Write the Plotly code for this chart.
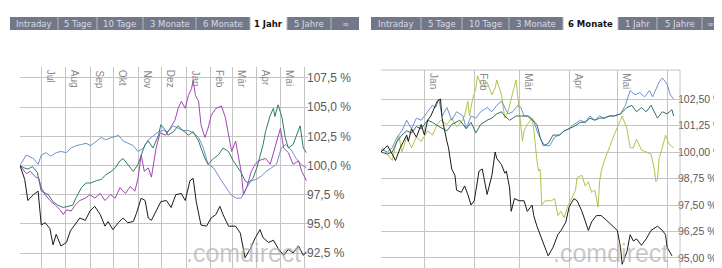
import plotly.graph_objects as go
import pandas as pd

# ------------------------------------------------------------------ data
# Left panel ("1 Jahr"): day offsets from L_START and values in %
L_START = "2006-06-04"
L_END_DAY = 366

l_black_d = [0, 4, 6, 10, 17, 23, 27, 32, 38, 42, 46, 52, 59, 64, 70, 76, 83, 89, 95, 102, 108, 112, 118, 125, 131, 137,
             144, 148, 154, 159, 163, 167, 173, 179, 186, 192, 198, 205, 210, 216, 220, 224, 230, 237, 243, 249, 254,
             258, 265, 274, 280, 286, 293, 299, 305, 309, 316, 322, 328, 335, 341, 347, 354, 360, 364]
l_black_v = [100.0, 99.2, 98.8, 97.0, 97.5, 97.8, 94.9, 95.1, 94.6, 93.2, 94.1, 93.1, 93.4, 94.4, 94.9, 95.5, 95.3,
             96.1, 96.5, 95.8, 94.8, 95.2, 94.5, 95.1, 95.5, 95.1, 95.2, 95.9, 97.2, 97.0, 95.5, 95.3, 96.1, 96.9, 97.0,
             96.4, 97.5, 97.6, 97.0, 98.7, 98.9, 96.9, 94.9, 94.8, 95.5, 95.8, 96.5, 95.8, 94.8, 94.8, 94.2, 92.1,
             92.9, 93.8, 94.5, 93.8, 93.4, 93.6, 92.9, 92.3, 92.8, 92.5, 93.1, 92.3, 92.6]

l_purple_d = [0, 4, 8, 13, 20, 24, 27, 32, 38, 45, 51, 55, 59, 65, 70, 76, 83, 89, 95, 102, 108, 115, 121, 127, 134,
              140, 146, 150, 154, 158, 163, 167, 170, 173, 178, 185, 191, 197, 201, 205, 210, 214, 218, 220, 223, 227,
              230, 235, 239, 243, 249, 256, 261, 265, 269, 274, 277, 281, 284, 288, 294, 299, 303, 312, 318, 325, 331,
              335, 341, 347, 354, 358, 364]
l_purple_v = [100.0, 99.6, 99.3, 99.5, 99.0, 98.9, 98.1, 97.5, 97.0, 96.6, 96.2, 95.8, 96.2, 96.1, 96.6, 97.0, 97.2,
              97.5, 97.2, 97.6, 97.0, 97.5, 97.2, 98.1, 97.6, 98.2, 97.8, 98.9, 100.9, 99.5, 99.8, 99.0, 100.2, 101.5,
              102.8, 102.6, 103.2, 103.9, 104.9, 105.5, 104.9, 106.0, 106.6, 107.3, 106.0, 105.5, 103.5, 102.4, 103.2,
              104.3, 104.9, 105.1, 104.1, 102.6, 101.2, 102.1, 100.9, 99.5, 97.5, 98.1, 99.5, 100.1, 100.4, 100.6,
              100.1, 101.8, 103.2, 101.5, 101.1, 100.1, 100.4, 99.5, 98.7]

l_green_d = [0, 5, 10, 16, 22, 27, 36, 42, 48, 55, 61, 67, 71, 78, 84, 90, 97, 103, 109, 116, 121, 127, 131, 137, 144,
             150, 154, 159, 163, 169, 176, 179, 185, 188, 195, 201, 207, 214, 220, 227, 230, 235, 239, 246, 252, 258,
             265, 271, 277, 281, 286, 290, 296, 301, 305, 309, 312, 318, 322, 324, 328, 333, 337, 341, 347, 351, 356,
             360, 364]
l_green_v = [100.0, 99.8, 99.7, 99.9, 99.4, 97.8, 97.5, 96.9, 96.6, 96.4, 96.5, 96.6, 97.2, 98.1, 98.5, 98.5, 98.7,
             98.8, 99.2, 99.5, 99.8, 100.4, 100.6, 100.1, 99.5, 100.1, 100.9, 101.8, 102.1, 101.5, 102.6, 103.5, 103.0,
             102.6, 102.9, 103.4, 103.0, 102.6, 102.9, 102.1, 101.5, 100.6, 100.1, 100.6, 100.9, 101.5, 101.2, 100.4,
             99.8, 99.4, 98.7, 98.5, 98.9, 99.8, 100.8, 101.8, 102.9, 104.3, 104.9, 104.2, 105.2, 104.1, 102.4, 101.5,
             101.8, 102.6, 103.4, 101.5, 101.1]

l_blue_d = [0, 4, 8, 17, 23, 27, 33, 39, 46, 52, 59, 65, 71, 78, 84, 90, 97, 103, 109, 116, 122, 125, 131, 137, 144,
            150, 157, 163, 169, 176, 182, 188, 195, 201, 207, 214, 220, 227, 233, 239, 246, 256, 262, 268, 275, 281,
            288, 294, 300, 307, 313, 319, 326, 332, 338, 345, 351, 357, 364]
l_blue_v = [100.0, 100.4, 100.9, 100.6, 100.1, 100.9, 101.1, 100.8, 101.1, 101.2, 101.1, 101.5, 101.7, 101.8, 101.9,
            101.7, 102.1, 102.4, 102.2, 102.4, 102.5, 102.6, 102.1, 101.9, 101.7, 101.2, 101.5, 102.2, 102.5, 102.9,
            103.0, 102.9, 103.4, 103.2, 103.0, 103.0, 102.8, 102.4, 101.5, 100.1, 99.8, 98.7, 98.1, 97.5, 97.2, 97.2,
            98.1, 98.7, 98.8, 99.1, 99.5, 99.8, 100.1, 101.5, 101.8, 101.3, 100.6, 100.1, 99.8]

L_MONTHS = ["Jul", "Aug", "Sep", "Okt", "Nov", "Dez", "Jan", "Feb", "Mär", "Apr", "Mai", ""]
L_MONTH_DATES = ["2006-07-01", "2006-08-01", "2006-09-01", "2006-10-01", "2006-11-01", "2006-12-01",
                 "2007-01-01", "2007-02-01", "2007-03-01", "2007-04-01", "2007-05-01", "2007-06-01"]
L_YTICKS = [92.5, 95.0, 97.5, 100.0, 102.5, 105.0, 107.5]
L_YTEXT = ["92,5 %", "95,0 %", "97,5 %", "100,0 %", "102,5 %", "105,0 %", "107,5 %"]

# Right panel ("6 Monate"): day offsets from R_START
R_START = "2006-12-05"
R_END_DAY = 186

r_black_d = [0, 4, 7, 9, 12, 16, 17, 19, 22, 25, 27, 29, 31, 33, 35, 37, 38, 41, 42, 44, 46, 47, 50, 52, 54, 56, 58,
             61, 63, 64, 66, 69, 71, 72, 75, 77, 78, 80, 81, 83, 86, 89, 91, 94, 95, 97, 100, 102, 104, 107, 110, 112,
             115, 117, 120, 122, 125, 129, 131, 134, 137, 140, 144, 147, 149, 150, 153, 155, 157, 159, 162, 165, 168,
             172, 175, 177, 178, 181]
r_black_v = [100.0, 100.3, 99.9, 99.6, 100.2, 100.8, 100.5, 101.1, 100.7, 101.3, 100.8, 101.5, 101.7, 102.1, 102.4,
             102.5, 101.6, 100.5, 100.2, 99.2, 98.9, 98.2, 98.1, 98.4, 98.0, 97.5, 97.7, 99.1, 99.2, 98.8, 98.0, 98.9,
             100.0, 99.7, 99.4, 99.0, 99.1, 98.3, 97.2, 97.8, 97.7, 97.7, 97.2, 97.5, 97.0, 96.5, 95.9, 95.4, 95.1,
             95.5, 96.1, 96.3, 96.7, 97.4, 97.8, 97.7, 97.2, 96.3, 96.7, 97.0, 97.0, 96.8, 96.5, 96.3, 95.5, 94.7,
             95.3, 96.1, 95.8, 95.9, 95.6, 95.9, 96.3, 96.5, 96.3, 96.1, 95.5, 95.1]

r_olive_d = [0, 1, 4, 7, 9, 11, 13, 16, 19, 22, 25, 29, 32, 35, 37, 41, 44, 47, 50, 52, 54, 55, 57, 59, 60, 62, 64,
             66, 69, 71, 72, 75, 77, 79, 81, 83, 84, 85, 86, 87, 88, 89, 91, 94, 95, 97, 98, 99, 100, 102, 106, 108,
             110, 112, 114, 116, 119, 121, 122, 125, 127, 129, 131, 133, 135, 136, 137, 139, 142, 145, 149, 150, 153,
             155, 157, 159, 162, 165, 168, 170, 171, 172, 173, 175, 177, 179, 182]
r_olive_v = [100.0, 100.2, 99.9, 99.6, 100.3, 100.8, 100.0, 100.7, 100.2, 100.7, 100.5, 101.0, 100.8, 101.3, 101.5,
             101.3, 101.6, 101.2, 101.4, 101.7, 102.4, 101.7, 102.5, 103.0, 103.6, 103.2, 103.1, 103.3, 102.7, 103.0,
             103.4, 102.7, 101.6, 101.9, 102.5, 103.2, 103.4, 102.7, 101.9, 101.3, 100.5, 101.0, 101.3, 101.6, 101.1,
             99.6, 99.1, 99.2, 97.5, 97.7, 97.7, 97.8, 97.0, 97.2, 96.9, 97.4, 97.9, 98.2, 98.8, 98.9, 98.4, 98.6,
             98.1, 98.2, 97.4, 98.6, 99.1, 99.6, 100.2, 100.8, 101.5, 101.7, 101.1, 100.2, 100.2, 100.6, 100.1, 100.0,
             99.9, 99.2, 98.6, 98.7, 99.7, 100.2, 100.8, 100.4, 100.2]

r_blue_d = [0, 1, 4, 7, 10, 13, 16, 19, 22, 25, 29, 32, 34, 36, 38, 41, 44, 47, 51, 53, 56, 59, 62, 66, 69, 72, 75,
            77, 79, 82, 85, 87, 89, 92, 95, 97, 100, 102, 105, 108, 111, 114, 117, 120, 124, 127, 130, 133, 136, 139,
            142, 145, 149, 152, 155, 158, 161, 164, 167, 169, 171, 173, 175, 178, 180, 182]
r_blue_v = [100.0, 100.1, 100.0, 100.2, 100.7, 101.0, 101.5, 101.1, 101.6, 101.5, 101.9, 102.2, 102.1, 102.5, 101.7,
            102.1, 101.5, 101.9, 101.7, 101.1, 101.7, 101.6, 101.9, 102.1, 101.9, 102.2, 102.4, 102.1, 101.8, 101.9,
            102.2, 102.1, 101.7, 101.7, 101.5, 101.0, 100.5, 100.3, 100.3, 100.7, 100.8, 101.0, 101.1, 101.3, 101.5,
            101.4, 101.7, 101.5, 101.7, 101.6, 101.7, 101.7, 101.8, 102.2, 102.9, 102.7, 102.8, 102.6, 102.9, 102.6,
            103.0, 103.3, 103.5, 103.2, 102.7, 102.5]

r_teal_d = [0, 4, 7, 10, 13, 16, 19, 22, 25, 29, 32, 36, 41, 44, 49, 53, 56, 59, 62, 66, 69, 72, 75, 77, 80, 84, 87,
            91, 94, 97, 99, 101, 104, 107, 111, 114, 117, 120, 124, 127, 130, 133, 136, 139, 142, 145, 149, 153, 156,
            159, 162, 165, 168, 172, 175, 178, 181, 182]
r_teal_v = [100.0, 99.9, 100.0, 100.5, 100.8, 101.0, 100.9, 101.2, 101.1, 101.5, 101.4, 101.2, 101.0, 101.3, 101.5,
            101.1, 101.4, 100.9, 101.3, 101.5, 101.6, 101.8, 101.9, 101.7, 101.5, 101.7, 101.7, 101.7, 101.5, 101.3,
            100.7, 100.3, 100.4, 100.8, 100.8, 101.0, 101.1, 101.2, 101.4, 101.4, 101.6, 101.5, 101.6, 101.6, 101.7,
            101.7, 101.8, 102.1, 102.2, 101.9, 102.1, 101.9, 102.2, 101.6, 101.9, 101.8, 102.0, 101.7]

R_MONTHS = ["Jan", "Feb", "Mär", "Apr", "Mai", ""]
R_MONTH_DATES = ["2007-01-01", "2007-02-01", "2007-03-01", "2007-04-01", "2007-05-01", "2007-06-01"]
R_YTICKS = [95.0, 96.25, 97.5, 98.75, 100.0, 101.25, 102.5]
R_YTEXT = ["95,00 %", "96,25 %", "97,50 %", "98,75 %", "100,00 %", "101,25 %", "102,50 %"]

TABS = ["Intraday", "5 Tage", "10 Tage", "3 Monate", "6 Monate", "1 Jahr", "5 Jahre", "∞"]
L_SELECTED = "1 Jahr"
R_SELECTED = "6 Monate"

# ------------------------------------------------------------------ layout constants
W, H = 722, 268
FONT = "Liberation Sans, Arial, sans-serif"
GRID = "#c4c4c4"

L_DOM_X = (12, 300)
R_DOM_X = (373, 672)
L_TOP = 59
R_TOP = 62
L_YRANGE = (90.53, 108.44)
R_YRANGE = (94.15, 103.87)

L_TAB_EDGES = [2, 50, 89, 135, 188, 242, 279, 323, 351]
R_TAB_EDGES = [363, 413, 454, 501, 555, 610, 649, 694, 711]
TAB_Y = (9, 22)


def px(x):
    return x / W


def py(y):
    return 1 - y / H


def to_dates(start, days):
    return pd.Timestamp(start) + pd.to_timedelta(days, unit="D")


fig = go.Figure()

left_series = [
    (l_blue_d, l_blue_v, "#7090cc"),
    (l_green_d, l_green_v, "#2f7d62"),
    (l_purple_d, l_purple_v, "#a046b6"),
    (l_black_d, l_black_v, "#1a1a1a"),
]
for d, v, c in left_series:
    fig.add_trace(go.Scatter(x=to_dates(L_START, d), y=v, mode="lines", line=dict(color=c, width=1),
                             xaxis="x", yaxis="y", showlegend=False, hoverinfo="skip"))

right_series = [
    (r_olive_d, r_olive_v, "#b3c24c"),
    (r_blue_d, r_blue_v, "#6f90d0"),
    (r_teal_d, r_teal_v, "#2f6f6c"),
    (r_black_d, r_black_v, "#1a1a1a"),
]
for d, v, c in right_series:
    fig.add_trace(go.Scatter(x=to_dates(R_START, d), y=v, mode="lines", line=dict(color=c, width=1),
                             xaxis="x2", yaxis="y2", showlegend=False, hoverinfo="skip"))

fig.update_layout(
    width=W, height=H, margin=dict(l=0, r=0, t=0, b=0),
    paper_bgcolor="white", plot_bgcolor="white",
    xaxis=dict(domain=[px(L_DOM_X[0]), px(L_DOM_X[1])], type="date",
               range=[to_dates(L_START, 0), to_dates(L_START, L_END_DAY)],
               tickvals=L_MONTH_DATES, showticklabels=False, showgrid=True, gridcolor=GRID, gridwidth=1,
               zeroline=False, showline=False, ticks="", anchor="y"),
    yaxis=dict(domain=[0, py(L_TOP)], range=list(L_YRANGE), side="right", anchor="x",
               tickvals=L_YTICKS, ticktext=L_YTEXT, showgrid=True, gridcolor=GRID, gridwidth=1,
               zeroline=False, showline=False, ticks="", ticklabelstandoff=-2,
               tickfont=dict(family=FONT, size=12, color="#5a5a5a")),
    xaxis2=dict(domain=[px(R_DOM_X[0]), px(R_DOM_X[1])], type="date",
                range=[to_dates(R_START, 0), to_dates(R_START, R_END_DAY)],
                tickvals=R_MONTH_DATES, showticklabels=False, showgrid=True, gridcolor=GRID, gridwidth=1,
                zeroline=False, showline=False, ticks="", anchor="y2"),
    yaxis2=dict(domain=[0, py(R_TOP)], range=list(R_YRANGE), side="right", anchor="x2",
                tickvals=R_YTICKS, ticktext=R_YTEXT, showgrid=True, gridcolor=GRID, gridwidth=1,
                zeroline=False, showline=False, ticks="", ticklabelstandoff=-3,
                tickfont=dict(family=FONT, size=10.5, color="#5a5a5a")),
)

shapes = []
annotations = []

# right panel frame (top + right)
shapes.append(dict(type="line", xref="x2 domain", yref="y2 domain", x0=0, x1=1, y0=1, y1=1,
                   line=dict(color=GRID, width=1)))
shapes.append(dict(type="line", xref="x2 domain", yref="y2 domain", x0=1, x1=1, y0=0, y1=1,
                   line=dict(color=GRID, width=1)))

# month labels (rotated, inside top)
for names, dates, xr, yr in [(L_MONTHS, L_MONTH_DATES, "x", "y domain"), (R_MONTHS, R_MONTH_DATES, "x2", "y2 domain")]:
    for n, dt in zip(names, dates):
        if not n:
            continue
        annotations.append(dict(x=dt, y=1, xref=xr, yref=yr, text=n, showarrow=False, textangle=90,
                                xanchor="left", yanchor="top", xshift=2, yshift=-1,
                                font=dict(family=FONT, size=10, color="#8a8a8a")))

# watermark
for xr, yr, xpos in [("x domain", "y domain", 0.983), ("x2 domain", "y2 domain", 0.967)]:
    annotations.append(dict(x=xpos, y=0.0, xref=xr, yref=yr, text=".comdirect", showarrow=False,
                            xanchor="right", yanchor="bottom", yshift=7,
                            font=dict(family=FONT, size=25, color="rgba(175,175,175,0.7)")))

# tab bars
for edges, selected in [(L_TAB_EDGES, L_SELECTED), (R_TAB_EDGES, R_SELECTED)]:
    shapes.append(dict(type="rect", xref="paper", yref="paper", x0=px(edges[0]), x1=px(edges[-1]),
                       y0=py(TAB_Y[1]), y1=py(TAB_Y[0]), fillcolor="#737889", line=dict(width=0), layer="below"))
    for i, name in enumerate(TABS):
        x0, x1 = edges[i], edges[i + 1]
        sel = name == selected
        if sel:
            shapes.append(dict(type="rect", xref="paper", yref="paper", x0=px(x0), x1=px(x1),
                               y0=py(TAB_Y[1] + 1), y1=py(TAB_Y[0]), fillcolor="white", line=dict(width=0)))
        if i > 0:
            shapes.append(dict(type="line", xref="paper", yref="paper", x0=px(x0), x1=px(x0),
                               y0=py(TAB_Y[1]), y1=py(TAB_Y[0]), line=dict(color="#b4b8c4", width=1)))
        annotations.append(dict(x=px((x0 + x1) / 2), y=py((TAB_Y[0] + TAB_Y[1]) / 2), xref="paper", yref="paper",
                                text=("<b>%s</b>" % name) if sel else name, showarrow=False,
                                xanchor="center", yanchor="middle",
                                font=dict(family="DejaVu Sans, Verdana, sans-serif", size=8.5,
                                          color="#111111" if sel else "#d8dbe3")))

fig.update_layout(shapes=shapes, annotations=annotations)
fig.write_html("out.html")
